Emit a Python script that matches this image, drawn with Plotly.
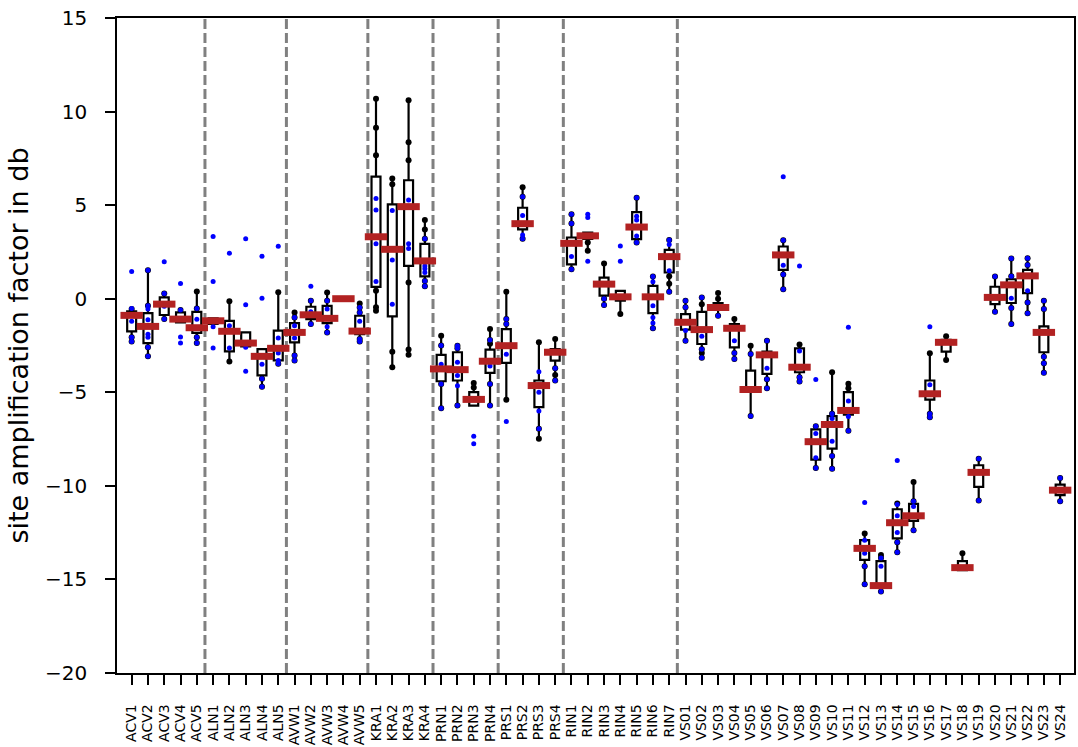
import plotly.graph_objects as go

# Station names (x-axis categories)
stations = [
    "ACV1", "ACV2", "ACV3", "ACV4", "ACV5",
    "ALN1", "ALN2", "ALN3", "ALN4", "ALN5",
    "AVW1", "AVW2", "AVW3", "AVW4", "AVW5",
    "KRA1", "KRA2", "KRA3", "KRA4",
    "PRN1", "PRN2", "PRN3", "PRN4",
    "PRS1", "PRS2", "PRS3", "PRS4",
    "RIN1", "RIN2", "RIN3", "RIN4", "RIN5", "RIN6", "RIN7",
    "VS01", "VS02", "VS03", "VS04", "VS05", "VS06", "VS07", "VS08",
    "VS09", "VS10", "VS11", "VS12", "VS13", "VS14", "VS15", "VS16",
    "VS17", "VS18", "VS19", "VS20", "VS21", "VS22", "VS23", "VS24",
]

# Box statistics per station (dB)
median = [
    -0.89, -1.48, -0.29, -1.09, -1.55,
    -1.18, -1.74, -2.37, -3.08, -2.65,
    -1.80, -0.86, -1.05, 0.00, -1.73,
    3.31, 2.64, 4.92, 2.02,
    -3.75, -3.79, -5.38, -3.34,
    -2.51, 4.01, -4.64, -2.86,
    2.96, 3.36, 0.78, 0.10, 3.83, 0.10, 2.25,
    -1.26, -1.65, -0.47, -1.58, -4.85, -3.00, 2.34, -3.66,
    -7.64, -6.72, -5.97, -13.34, -15.33, -11.97, -11.60, -5.08,
    -2.33, -14.37, -9.28, 0.07, 0.74, 1.22, -1.80, -10.23,
]
q1 = [
    -1.74, -2.37, -0.87, -1.27, -1.83,
    -1.35, -2.81, -2.55, -4.10, -3.30,
    -2.33, -1.09, -1.30, 0.00, -1.89,
    0.63, -0.94, 1.75, 1.19,
    -4.41, -4.37, -5.71, -3.96,
    -3.43, 3.70, -5.79, -3.31,
    1.84, 3.20, 0.16, -0.11, 3.18, -0.77, 1.40,
    -1.65, -2.42, -0.60, -2.60, -4.95, -4.02, 1.54, -3.93,
    -8.60, -8.01, -6.20, -13.96, -15.40, -12.81, -11.87, -5.39,
    -2.83, -14.50, -10.05, -0.29, -0.23, 0.30, -2.86, -10.50,
]
q3 = [
    -0.68, -0.77, 0.07, -0.73, -0.70,
    -1.05, -1.18, -1.80, -2.69, -1.71,
    -1.30, -0.43, -0.38, 0.00, -0.91,
    6.52, 5.04, 6.33, 2.93,
    -3.00, -2.86, -4.99, -2.72,
    -1.62, 4.86, -4.37, -2.69,
    3.27, 3.53, 1.13, 0.42, 4.63, 0.69, 2.61,
    -0.82, -0.70, -0.23, -1.35, -3.84, -2.83, 2.79, -2.65,
    -6.98, -6.27, -4.99, -12.90, -14.02, -11.25, -10.96, -4.37,
    -2.20, -14.02, -8.90, 0.64, 1.04, 1.54, -1.48, -9.93,
]
whisker_lo = [
    -2.28, -3.08, -1.09, -1.27, -2.37,
    -1.35, -3.36, -2.55, -4.71, -3.48,
    -3.30, -1.35, -1.80, 0.00, -2.29,
    -0.64, -3.66, -3.00, 0.66,
    -5.85, -5.71, -5.71, -5.71,
    -5.40, 3.21, -7.48, -4.37,
    1.58, 2.56, -0.34, -0.82, 3.00, -1.58, 0.37,
    -2.24, -3.16, -0.91, -3.22, -6.27, -4.78, 0.51, -4.43,
    -9.04, -9.08, -7.05, -15.26, -15.65, -13.55, -12.37, -6.33,
    -3.27, -14.50, -10.78, -0.70, -1.35, -0.78, -3.96, -10.82,
]
whisker_hi = [
    -0.55, 1.52, 0.28, -0.60, 0.39,
    -1.05, -0.14, -1.80, -2.69, 0.35,
    -0.73, -0.11, 0.33, 0.00, -0.25,
    10.69, 6.43, 10.60, 4.20,
    -1.98, -2.51, -4.50, -1.62,
    0.37, 5.95, -2.33, -2.15,
    4.51, 3.53, 1.88, 0.42, 5.40, 1.19, 3.14,
    -0.11, 0.07, 0.30, -1.09, -2.51, -2.24, 3.12, -2.44,
    -6.82, -3.93, -4.55, -12.54, -13.70, -10.94, -9.79, -2.92,
    -2.01, -13.60, -8.55, 1.19, 2.15, 2.16, -0.11, -9.58,
]

# Individual values along the whiskers (black)
whisker_points = [
    [-0.55, -2.06, -2.28], [1.52, -0.38, -2.60, -3.08], [0.28, -1.09], [-0.60], [0.39, -0.52, -2.06, -2.37],
    [], [-0.14, -3.36], [], [-4.28, -4.71], [0.35, -3.48],
    [-0.73, -1.00, -3.04, -3.30], [-0.11, -1.35], [0.33, -0.11, -1.80], [], [-0.25, -0.47, -0.74, -2.15, -2.29],
    [10.69, 9.13, 7.66, 0.42, -0.46, -0.64], [6.43, 6.11, -2.83, -3.66],
    [10.60, 8.36, 7.40, 0.87, -2.72, -3.00], [4.20, 3.70, 3.21, 0.95, 0.66],
    [-1.98, -2.50, -4.56, -5.85], [-2.51, -2.65, -5.71], [-4.50, -4.75], [-1.62, -2.20, -2.40, -4.56, -5.71],
    [0.37, -1.09, -1.35, -5.40], [5.95, 5.45, 3.21], [-2.33, -6.95, -7.48], [-2.15, -3.72, -4.07, -4.37],
    [4.51, 4.02, 1.58], [3.00, 2.56], [1.88, 0.00, -0.34], [-0.82], [5.40, 3.00], [1.19, -1.58],
    [3.14, 1.20, 0.80, 0.37],
    [-0.11, -0.45, -2.24], [0.07, -0.30, -2.70, -2.90, -3.16], [0.30, 0.00, -0.91], [-1.09, -2.90, -3.22],
    [-2.51, -2.95, -6.27], [-2.24, -4.30, -4.78], [3.12, 1.30, 0.51], [-2.44, -4.20, -4.43],
    [-6.82, -9.04], [-3.93, -6.15, -8.40, -9.08], [-4.55, -4.78, -7.05], [-12.54, -14.30, -15.26],
    [-13.70, -13.85, -15.65], [-10.94, -13.02, -13.55], [-9.79, -10.82, -12.37], [-2.92, -6.15, -6.33],
    [-2.01, -3.27], [-13.60], [-8.55, -10.78], [1.19, -0.70],
    [2.15, 1.20, -0.50, -1.35], [2.16, 1.80, -0.20, -0.78], [-0.11, -0.55, -3.10, -3.45, -3.96], [-9.58, -10.82],
]

# Individual observations (blue)
observations = [
    [1.45, -0.52, -1.20, -2.06, -2.28], [1.52, -0.38, -0.55, -1.12, -1.90, -2.06, -2.60, -3.08],
    [1.97, 0.28, -0.40, -1.09], [0.81, -0.60, -2.05, -2.37], [-0.52, -1.10, -2.06, -2.37],
    [3.32, 0.92, -1.50, -2.63], [2.43, -1.45, -2.63], [3.21, -0.32, -2.60, -3.87],
    [2.27, 0.02, -3.50, -4.28, -4.71], [2.80, -2.10, -2.90, -3.30, -3.48],
    [-1.00, -1.45, -2.10, -3.04, -3.30], [0.67, -0.11, -0.70, -1.35], [-0.11, -0.55, -1.50, -1.80], [],
    [-0.47, -0.74, -1.20, -2.15, -2.29],
    [5.35, 4.74, 2.94, 0.92], [4.72, 2.07, -0.29], [5.27, 2.94, 2.68], [3.21, 1.75, 1.60, 1.40, 0.95, 0.66],
    [-2.50, -3.50, -4.56, -5.85], [-2.51, -2.65, -3.40, -4.10, -4.65, -5.71], [-7.35, -7.75],
    [-2.20, -3.60, -4.56, -5.71],
    [-1.09, -1.35, -2.97, -6.56], [5.45, 4.45, 3.40, 3.21], [-3.90, -5.00, -6.00, -6.95], [-3.72, -4.37],
    [4.51, 4.02, 2.25, 1.58], [4.51, 4.34, 2.00], [0.00, -0.34], [2.82, 2.00], [5.40, 4.40, 4.20, 3.35, 3.00],
    [1.19, 0.90, -0.38, -1.00, -1.30, -1.58], [3.14, 2.90, 1.50, 0.37],
    [-0.11, -0.45, -1.70, -2.24], [0.07, -2.00, -2.70, -3.16], [-0.91], [-2.24, -2.90, -3.22],
    [-2.95, -6.27], [-2.24, -3.71, -4.30, -4.78], [6.52, 3.12, 1.79, 1.30, 0.51], [1.75, -2.80, -4.20, -4.43],
    [-4.32, -6.82, -7.20, -8.50, -9.04], [-6.15, -6.40, -7.62, -8.40, -9.08], [-1.52, -5.47, -6.30, -7.05],
    [-10.89, -12.90, -13.60, -14.30, -15.26], [-13.85, -14.30, -15.65],
    [-8.65, -11.00, -11.60, -12.49, -13.02, -13.55], [-10.82, -11.10, -12.37], [-1.50, -4.60, -6.15, -6.33],
    [], [], [-8.55, -10.78], [1.19, -0.70],
    [2.15, 1.20, 0.03, -0.50, -1.35], [2.16, 1.80, 0.42, -0.20, -0.78],
    [-0.11, -0.55, -3.10, -3.45, -3.96], [-9.58, -10.82],
]

# Station groups separated by dashed lines (index of last station in each group)
group_ends = [4, 9, 14, 18, 22, 26, 33]

pos = list(range(len(stations)))

fig = go.Figure()

# Boxes with whiskers
fig.add_trace(go.Box(
    x=pos, q1=q1, median=median, q3=q3,
    lowerfence=whisker_lo, upperfence=whisker_hi,
    boxpoints=False, width=0.55, whiskerwidth=0,
    fillcolor="white", line=dict(color="black", width=2.2),
    showlegend=False, hoverinfo="skip",
))

# Whisker points
wx, wy = [], []
for i, vals in enumerate(whisker_points):
    for v in vals:
        if v < q1[i] or v > q3[i]:
            wx.append(i)
            wy.append(v)
fig.add_trace(go.Scatter(
    x=wx, y=wy, mode="markers",
    marker=dict(color="black", size=6, line=dict(width=0)),
    showlegend=False, hoverinfo="skip",
))

# Observations
bx, by = [], []
for i, vals in enumerate(observations):
    for v in vals:
        bx.append(i)
        by.append(v)
fig.add_trace(go.Scatter(
    x=bx, y=by, mode="markers",
    marker=dict(color="#0000ff", size=5, line=dict(width=0)),
    showlegend=False, hoverinfo="skip",
))

# Median bars
fig.add_trace(go.Scatter(
    x=pos, y=median, mode="markers",
    marker=dict(symbol="line-ew", size=16, line=dict(width=7, color="#b22222")),
    showlegend=False, hoverinfo="skip",
))

# Group separators
for e in group_ends:
    fig.add_shape(
        type="line", xref="x", yref="paper",
        x0=e + 0.5, x1=e + 0.5, y0=0, y1=1,
        line=dict(color="#808080", width=3, dash="10px,4px"),
        layer="below",
    )

fig.update_layout(
    width=1078, height=747,
    margin=dict(l=117, r=2, t=18, b=74),
    paper_bgcolor="white", plot_bgcolor="white",
    font=dict(family="DejaVu Sans", color="black"),
)
fig.update_xaxes(
    range=[-0.9, 57.85],
    tickmode="array", tickvals=pos, ticktext=stations, tickangle=-90,
    tickfont=dict(size=14),
    ticks="outside", ticklen=10, tickwidth=1.5, tickcolor="black",
    ticklabelstandoff=14,
    showline=True, linecolor="black", linewidth=1.5, mirror=True,
    showgrid=False, zeroline=False,
)
fig.update_yaxes(
    range=[-20, 15], tick0=-20, dtick=5,
    tickfont=dict(size=20),
    ticks="outside", ticklen=10, tickwidth=1.5, tickcolor="black",
    ticklabelstandoff=14,
    showline=True, linecolor="black", linewidth=1.5, mirror=True,
    showgrid=False, zeroline=False,
    title=dict(text="site amplification factor in db", font=dict(size=27), standoff=9),
)

fig.write_html("out.html")
